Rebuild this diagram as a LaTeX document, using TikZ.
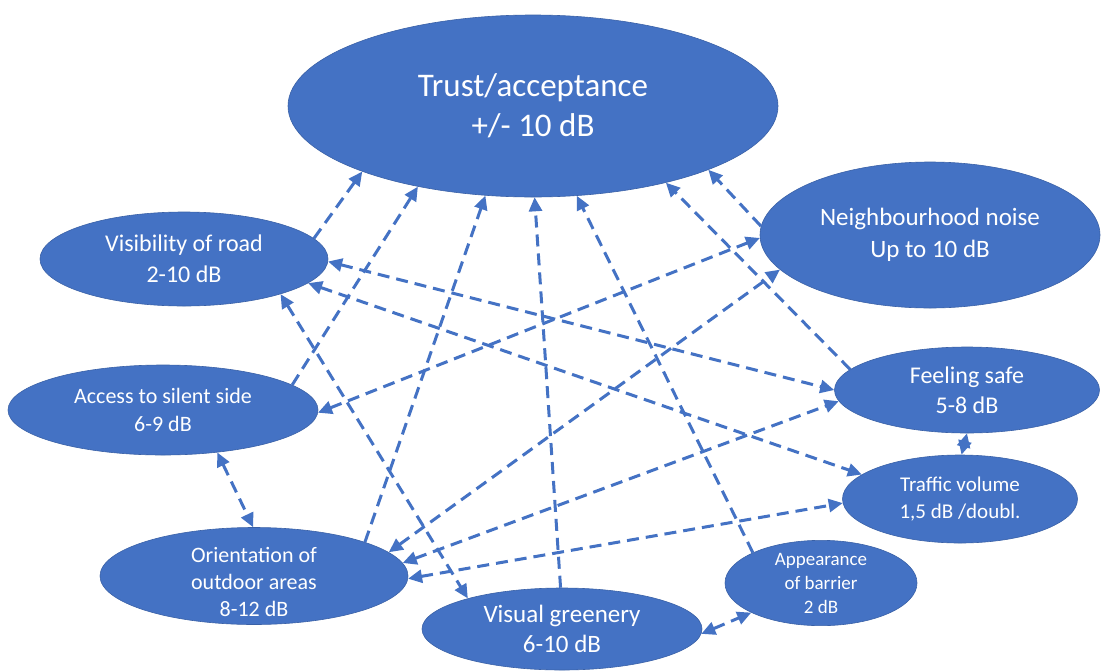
\documentclass[tikz,border=0pt]{standalone}
\usepackage{fontspec}
\setmainfont{Carlito}
\usetikzlibrary{arrows.meta,shapes.geometric}
\definecolor{officeblue}{HTML}{4472C4}
\tikzset{
  bubble/.style={ellipse, fill=officeblue, draw=officeblue!85!black, line width=0.6pt,
    text=white, align=center, inner sep=0pt},
  link/.style={officeblue, line width=3pt, dash pattern=on 12pt off 7pt,
    -{Triangle[length=14pt,width=13pt]}},
  blink/.style={officeblue, line width=3pt, dash pattern=on 12pt off 7pt,
    {Triangle[length=14pt,width=13pt]}-{Triangle[length=14pt,width=13pt]}},
}
\begin{document}
\begin{tikzpicture}[x=1pt,y=-1pt]
\useasboundingbox (0,0) rectangle (1103,670);
\fill[white] (0,0) rectangle (1103,670);

\node[bubble, minimum width=490, minimum height=182, font=\fontsize{33}{40}\selectfont] (trust) at (533,106) {Trust/acceptance\\+/- 10 dB};
\node[bubble, minimum width=288, minimum height=94, font=\fontsize{24}{31}\selectfont] (vis) at (184,259) {Visibility of road\\2-10 dB};
\node[bubble, minimum width=340, minimum height=146, font=\fontsize{25}{32}\selectfont] (neigh) at (930,235) {Neighbourhood noise\\Up to 10 dB};
\node[bubble, minimum width=310, minimum height=90, font=\fontsize{22}{28}\selectfont] (access) at (163,410) {Access to silent side\\6-9 dB};
\node[bubble, minimum width=265, minimum height=86, font=\fontsize{24}{30}\selectfont] (safe) at (967,390) {Feeling safe\\5-8 dB};
\node[bubble, minimum width=235, minimum height=88, font=\fontsize{21}{27}\selectfont] (traffic) at (960,499) {Traffic volume\\1,5 dB /doubl.};
\node[bubble, minimum width=308, minimum height=97, font=\fontsize{22}{27}\selectfont] (orient) at (254,576) {\raisebox{-13pt}[0pt][0pt]{\begin{tabular}{@{}c@{}}Orientation of\\outdoor areas\\8-12 dB\end{tabular}}};
\node[bubble, minimum width=280, minimum height=82, font=\fontsize{25}{30}\selectfont] (green) at (562,629) {Visual greenery\\6-10 dB};
\node[bubble, minimum width=192, minimum height=81, font=\fontsize{19}{24}\selectfont] (appear) at (821,583) {Appearance\\of barrier\\2 dB};

% one-way links into Trust
\draw[link] (vis.9) -- (trust.201);
\draw[link] (access.11) -- (trust.215.5);
\draw[link] (orient.17) -- (trust.242.7);
\draw[link] (green.92) -- (trust.271.3);
\draw[link] (appear.156.5) -- (trust.296.8);
\draw[link] (safe.170.7) -- (trust.330.4);
\draw[link] (neigh.177) -- (trust.340.4);

% two-way links
\draw[blink] (access.-1) -- (neigh.181);
\draw[blink] (orient.10.8) -- (neigh.193.1);
\draw[blink] (vis.-1) -- (safe.180);
\draw[blink] (vis.349.5) -- (traffic.166.3);
\draw[blink] (vis.340.3) -- (green.162.3);
\draw[blink] (access.322.4) -- (orient.91);
\draw[blink] (safe.270) -- (traffic.88);
\draw[blink] (orient.5.9) -- (safe.185.7);
\draw[blink] (orient.-1) -- (traffic.182);
\draw[blink] (green.-2) -- (appear.203);
\end{tikzpicture}
\end{document}
